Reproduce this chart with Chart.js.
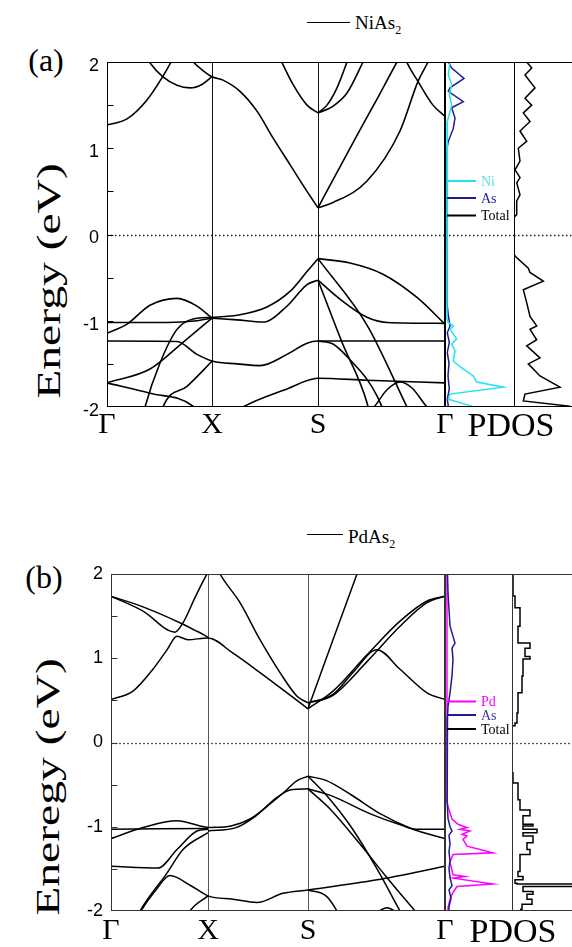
<!DOCTYPE html>
<html>
<head>
<meta charset="utf-8">
<title>NiAs2 / PdAs2 bands and PDOS</title>
<script src="https://cdn.jsdelivr.net/npm/chart.js@4.4.1/dist/chart.umd.min.js"></script>
<style>
  html, body { margin: 0; padding: 0; background: #fff; overflow: hidden; }
  body { position: relative; width: 572px; height: 947px; font-family: 'Liberation Serif', 'Times New Roman', serif; color: #000; }
  canvas { position: absolute; }
  .lbl { position: absolute; white-space: nowrap; line-height: 1; transform: translate(-50%, -50%); }
  .ytitle { position: absolute; white-space: nowrap; line-height: 1; font-size: 34px; transform: translate(-50%, -50%) rotate(-90deg) scaleX(1.4); }
  .key { position: absolute; white-space: nowrap; line-height: 1; font-size: 19px; }
  .key span { font-size: 12px; position: relative; top: 5px; }
  .keyline { position: absolute; height: 0; border-top: 1.5px solid #000; }
</style>
</head>
<body>
<!-- (a) NiAs2 -->
<div class="keyline" style="left:307px;top:22px;width:43px"></div>
<div class="key" style="left:355px;top:13px">NiAs<span>2</span></div>
<div class="lbl" style="left:46px;top:60px;font-size:32px">(a)</div>
<div class="ytitle" style="left:49px;top:281px">Energy (eV)</div>
<canvas id="bandA" width="405" height="393" style="left:60px;top:52px"></canvas>
<canvas id="dosA" width="69" height="345" style="left:445px;top:62px"></canvas>
<canvas id="totA" width="58" height="345" style="left:514px;top:62px"></canvas>
<div class="lbl" style="left:511px;top:425px;font-size:34px">PDOS</div>

<!-- (b) PdAs2 -->
<div class="keyline" style="left:307px;top:534px;width:36px"></div>
<div class="key" style="left:348px;top:527px">PdAs<span>2</span></div>
<div class="lbl" style="left:44px;top:577px;font-size:32px">(b)</div>
<div class="ytitle" style="left:48px;top:787px">Eneregy (eV)</div>
<canvas id="bandB" width="401" height="382" style="left:64px;top:564px"></canvas>
<canvas id="dosB" width="67" height="337" style="left:445px;top:574px"></canvas>
<canvas id="totB" width="60" height="337" style="left:512px;top:574px"></canvas>
<div class="lbl" style="left:513px;top:931px;font-size:34px">PDOS</div>

<script>
// ---------- shared ----------
const kLabels = ['Γ', 'X', 'S', 'Γ'];
const minorTicks = [-1.5, -1, -0.5, 0, 0.5, 1, 1.5];

// ---------- (a) NiAs2 : bands as [k, E] ----------
const kPathA = [0, 105, 211, 338];
const bandsA = [
  [[0,1.27],[20,1.34],[40,1.56],[55.7,1.83],[64,2.0],[70,2.15]],
  [[36,2.12],[42.3,2.0],[55.7,1.83],[70,1.73],[83,1.70],[95,1.74],[105,1.83]],
  [[80,2.1],[86.3,2.0],[95,1.91],[105,1.83],[116,1.79],[133,1.66],[150,1.43],[166,1.12],[183,0.81],[200,0.50],[211,0.31]],
  [[211,0.31],[230,0.72],[250,1.15],[270,1.57],[290,2.0],[295,2.1]],
  [[211,0.31],[226,0.37],[260,0.62],[293,1.20],[311,1.775],[321,2.0],[325,2.1]],
  [[295,2.15],[299.7,2.0],[311,1.775],[326,1.50],[338,1.37]],
  [[170,2.12],[174.7,2.0],[186,1.74],[200,1.50],[211,1.41]],
  [[211,1.41],[220,1.50],[230,1.70],[240,2.0],[243,2.1]],
  [[211,1.41],[225,1.48],[240,1.64],[256,2.0],[260,2.1]],
  [[36,-2.1],[38,-2.0],[53,-1.49],[70,-1.10],[86,-0.98],[105,-0.96],[133,-0.93],[160,-0.84],[183,-0.66],[200,-0.43],[211,-0.28]],
  [[211,-0.28],[243,-0.33],[276,-0.46],[310,-0.73],[338,-1.04]],
  [[105,-0.97],[130,-0.99],[156,-1.015],[180,-0.83],[200,-0.58],[211,-0.53]],
  [[211,-0.53],[233,-0.75],[260,-0.96],[280,-1.02],[338,-1.03]],
  [[0,-1.146],[20,-1.04],[43,-0.82],[70,-0.74],[90,-0.83],[105,-0.97]],
  [[0,-1.02],[60,-1.02],[90,-1.0],[105,-0.97]],
  [[0,-1.235],[70,-1.24],[90,-1.39],[106,-1.47],[130,-1.50],[153,-1.52],[180,-1.39],[200,-1.26],[211,-1.235],[338,-1.235]],
  [[0,-1.72],[43,-1.56],[76,-1.25],[105,-0.97]],
  [[54,-2.1],[56,-2.0],[80,-1.76],[105,-1.47]],
  [[0,-1.72],[43,-1.84],[86,-1.99],[90,-2.05]],
  [[130,-2.05],[136,-2.0],[180,-1.79],[211,-1.667],[260,-1.69],[338,-1.72]],
  [[211,-0.28],[260,-1.05],[300,-2.0]],
  [[211,-0.53],[235,-1.25],[260,-1.95],[262,-2.05]],
  [[211,-1.235],[226,-1.27],[246,-1.49],[260,-1.68],[270,-1.87],[275,-2.0]],
  [[262,-2.05],[267,-2.0],[280,-1.80],[293,-1.71],[305,-1.78],[320,-2.0],[325,-2.05]]
];

// (a) PDOS (arbitrary units)
const namesA = ['Ni', 'As', 'Total'];
const niE   = [2.0, 1.85, 1.74, 1.62, 1.50, 1.31, 1.08, -0.98, -1.02, -1.06, -1.10, -1.21, -1.27, -1.35, -1.47, -1.56, -1.64, -1.71, -1.77, -1.85, -1.91, -1.99];
const niDos = [0.3, 0.13, 0.47, 0.23, 0.47, 0.03, 0, 0, 0.13, 0.63, 0.3, 0.97, 0.47, 0.8, 0.63, 1.63, 2.63, 2.97, 5.63, 0.3, 0.13, 2.47];
const asAE   = [2.0, 1.93, 1.81, 1.70, 1.66, 1.54, 1.47, 1.35, 1.23, 1.08, 1.0, -0.83, -0.94, -1.06, -1.14, -1.25, -1.37, -1.49, -1.64, -1.79, -1.91, -1.99];
const asADos = [0.13, 0.47, 1.7, 0.3, 0.13, 1.63, 0.47, 0.8, 0.63, 0.13, 0, 0.03, 0.13, 0.3, 0.03, 0.23, 0.03, 0.2, 0.1, 0.23, 0.03, 0.13];
const totAE   = [2.0, 1.93, 1.85, 1.70, 1.58, 1.50, 1.41, 1.31, 1.20, 1.08, 1.00, 0.85, 0.75, 0.66, 0.60, 0.46, 0.39, 0.23, 0.20, -0.22, -0.25, -0.39, -0.44, -0.54, -0.64, -0.79, -0.95, -1.06, -1.10, -1.22, -1.29, -1.43, -1.50, -1.64, -1.77, -1.85, -1.93, -1.99];
const totADos = [1.27, 1.77, 1.1, 2.1, 1.1, 1.77, 0.93, 1.6, 0.6, 1.27, 0.43, 0.6, 0.1, 0.6, 0.27, 0.6, 0.27, 0.27, 0, 0, 0.1, 1.43, 1.6, 2.93, 0.93, 1.27, 1.6, 2.27, 1.6, 2.27, 1.27, 2.6, 1.43, 2.6, 4.6, 1.1, 0.93, 5.6];

// ---------- (b) PdAs2 ----------
const kPathB = [0, 97, 197, 334];
const bandsB = [
  [[0,0.51],[22,0.61],[42,0.87],[56,1.10],[66,1.26],[77,1.22],[97,1.24],[122,1.06],[149,0.83],[176,0.59],[197,0.40]],
  [[0,1.737],[32,1.56],[64,1.31],[72,1.42],[84,1.72],[96,2.0],[99,2.05]],
  [[0,1.737],[32,1.61],[71,1.41],[86,1.32],[97,1.25]],
  [[105,2.1],[109,2.0],[129,1.66],[149,1.22],[169,0.83],[186,0.55],[197,0.47]],
  [[197,0.40],[222,1.22],[246,2.0],[249,2.1]],
  [[197,0.40],[222,0.61],[256,1.04],[289,1.44],[316,1.68],[334,1.737]],
  [[197,0.47],[222,0.56],[256,0.96],[289,1.38],[316,1.66],[334,1.737]],
  [[197,0.47],[222,0.57],[242,0.83],[266,1.10],[289,0.87],[316,0.59],[334,0.51]],
  [[97,-1.01],[120,-0.99],[140,-0.90],[160,-0.72],[175,-0.57],[185,-0.46],[197,-0.40]],
  [[197,-0.40],[215,-0.45],[240,-0.62],[270,-0.85],[300,-1.02],[334,-1.14]],
  [[97,-1.05],[125,-1.01],[145,-0.87],[165,-0.66],[180,-0.56],[197,-0.55]],
  [[197,-0.55],[220,-0.63],[260,-0.85],[290,-0.98],[305,-1.03],[334,-1.03]],
  [[0,-1.03],[97,-1.02]],
  [[0,-1.14],[32,-1.01],[66,-0.93],[89,-0.99],[97,-1.01]],
  [[0,-1.47],[47,-1.49],[66,-1.27],[86,-1.05],[97,-1.03]],
  [[27,-2.05],[29,-2.0],[56,-1.55],[72,-1.27],[97,-1.07]],
  [[28,-2.05],[30,-2.0],[45,-1.75],[59,-1.58],[80,-1.70],[97,-1.82],[122,-1.86],[146,-1.90],[172,-1.79],[197,-1.75],[266,-1.63],[334,-1.47]],
  [[77,-2.05],[79,-2.0],[97,-1.82]],
  [[197,-1.75],[215,-1.82],[226,-2.0],[228,-2.05]],
  [[197,-0.40],[215,-0.62],[240,-1.0],[266,-1.50],[289,-2.0]],
  [[197,-0.55],[220,-0.80],[250,-1.22],[275,-1.59],[304,-2.0]],
  [[262,-2.05],[276,-1.96],[290,-2.05]]
];

const namesB = ['Pd', 'As', 'Total'];
const pdE   = [2.0, -0.70, -0.76, -0.91, -0.97, -1.01, -1.03, -1.05, -1.09, -1.11, -1.15, -1.23, -1.27, -1.31, -1.33, -1.42, -1.57, -1.59, -1.61, -1.68, -1.71, -1.78, -1.86, -1.96, -2.0];
const pdDos = [0, 0, 0.1, 0.5, 1.1, 2.0, 1.3, 2.3, 1.5, 2.0, 1.6, 2.0, 3.3, 4.6, 0.6, 0.3, 0.6, 1.8, 0.6, 4.6, 1.0, 0.6, 0.3, 0.1, 0.1];
const asBE   = [2.0, 1.78, 1.38, 1.18, 1.12, 0.99, 0.79, 0.59, 0.43, 0.3, 0.2, -0.5, -0.7, -0.9, -1.0, -1.05, -1.1, -1.2, -1.3, -1.4, -1.5, -1.6, -1.7, -1.75, -1.85, -1.95, -2.0];
const asBDos = [0.05, 0.1, 0.3, 0.8, 0.5, 0.6, 0.5, 0.3, 0.1, 0.05, 0, 0, 0.05, 0.1, 0.3, 0.5, 0.2, 0.3, 0.2, 0.3, 0.2, 0.3, 0.5, 0.2, 0.4, 0.2, 0.2];
const totBE   = [2.0, 1.74, 1.60, 1.38, 1.22, 1.18, 1.12, 1.02, 0.99, 0.79, 0.59, 0.35, 0.23, 0.20, -0.34, -0.36, -0.48, -0.68, -0.80, -0.87, -0.97, -0.99, -1.03, -1.07, -1.11, -1.19, -1.27, -1.33, -1.53, -1.59, -1.63, -1.67, -1.68, -1.71, -1.77, -1.80, -1.86, -1.92, -1.98];
const totBDos = [0.1, 0.3, 0.8, 0.6, 0.6, 1.8, 1.3, 1.8, 1.1, 1.0, 0.6, 0.5, 0.3, 0, 0, 0.1, 0.6, 0.8, 1.8, 1.1, 2.1, 1.1, 2.5, 1.1, 2.1, 1.5, 1.8, 0.8, 0.6, 1.1, 0.3, 0.5, 6.5, 1.1, 2.1, 1.5, 2.0, 1.0, 0.8];

// ---------- drawing helpers ----------
Chart.defaults.font.family = "'Liberation Sans', Arial, sans-serif";
Chart.defaults.color = '#000';

// frame, Fermi level, high-symmetry lines, inward ticks and in-panel key
const framePlugin = {
  id: 'frame',
  beforeDatasetsDraw(chart, args, o) {
    const { ctx, chartArea: a } = chart;
    const x = chart.scales.x, y = chart.scales.y;
    ctx.save();
    ctx.lineWidth = 1;
    ctx.strokeStyle = o.vlineColor || '#000';
    (o.vlines || []).forEach(v => {
      const px = Math.round(x.getPixelForValue(v)) + 0.5;
      ctx.beginPath(); ctx.moveTo(px, a.top); ctx.lineTo(px, a.bottom); ctx.stroke();
    });
    const py = Math.round(y.getPixelForValue(0)) + 0.5;
    ctx.setLineDash(o.dash);
    ctx.strokeStyle = o.dashColor;
    ctx.lineWidth = 1.3;
    ctx.beginPath(); ctx.moveTo(a.left, py); ctx.lineTo(a.right, py); ctx.stroke();
    ctx.restore();
  },
  afterDatasetsDraw(chart, args, o) {
    const { ctx, chartArea: a } = chart;
    const y = chart.scales.y;
    const L = a.left + 0.5, R = a.right - 0.5, T = a.top + 0.5, B = a.bottom - 0.5;
    ctx.save();
    ctx.strokeStyle = o.frameColor;
    ctx.lineWidth = 1;
    ctx.beginPath();
    if (o.sides.includes('l')) { ctx.moveTo(L, T); ctx.lineTo(L, B); }
    if (o.sides.includes('r')) { ctx.moveTo(R, T); ctx.lineTo(R, B); }
    if (o.sides.includes('t')) { ctx.moveTo(a.left, T); ctx.lineTo(a.right, T); }
    if (o.sides.includes('b')) { ctx.moveTo(a.left, B); ctx.lineTo(a.right, B); }
    (o.ticks || []).forEach(v => {
      const py = Math.round(y.getPixelForValue(v)) + 0.5;
      ctx.moveTo(L, py); ctx.lineTo(L + 6, py);
    });
    ctx.stroke();
    (o.key || []).forEach(k => {
      ctx.strokeStyle = k.color;
      ctx.lineWidth = 2;
      ctx.beginPath(); ctx.moveTo(a.left + 2, k.y); ctx.lineTo(a.left + 31, k.y); ctx.stroke();
      ctx.fillStyle = k.textColor;
      ctx.font = "14px 'Liberation Serif'";
      ctx.textBaseline = 'middle';
      ctx.fillText(k.text, a.left + 36, k.y + 1);
    });
    ctx.restore();
  }
};

function bandChart(id, bands, kPath, xHeight, look) {
  return new Chart(document.getElementById(id), {
    type: 'line',
    data: {
      datasets: bands.map(b => ({
        data: b.map(([k, e]) => ({ x: k, y: e })),
        borderColor: '#000',
        borderWidth: look.width,
        pointRadius: 0,
        fill: false,
        cubicInterpolationMode: 'monotone'
      }))
    },
    options: {
      responsive: false,
      animation: false,
      events: [],
      layout: { padding: { top: 10, right: 20, bottom: 0, left: 0 } },
      elements: { line: { capBezierPoints: false } },
      plugins: {
        legend: { display: false },
        tooltip: { enabled: false },
        frame: {
          vlines: kPath.slice(1, -1), vlineColor: look.vline,
          dash: look.dash, dashColor: look.dashColor,
          frameColor: look.frame, sides: 'lrtb', ticks: minorTicks
        }
      },
      scales: {
        x: {
          type: 'linear', min: 0, max: kPath[kPath.length - 1],
          grid: { display: false, drawTicks: false }, border: { display: false },
          afterBuildTicks: s => { s.ticks = kPath.map(v => ({ value: v })); },
          afterFit: s => { s.height = xHeight; },
          ticks: {
            autoSkip: false, maxRotation: 0, padding: look.xPad,
            font: { family: "'Liberation Serif'", size: 30 },
            callback: (v, i) => kLabels[i]
          }
        },
        y: {
          min: -2, max: 2,
          grid: { display: false, drawTicks: false }, border: { display: false },
          afterFit: s => { s.width = 47; s.paddingTop = 0; s.paddingBottom = 0; },
          ticks: { stepSize: 1, padding: 8, labelOffset: look.yShift, font: { size: 18 } }
        }
      }
    },
    plugins: [framePlugin]
  });
}

function dosChart(id, series, xMin, xMax, frameOpts) {
  return new Chart(document.getElementById(id), {
    type: 'scatter',
    data: {
      datasets: series.map(s => ({
        data: s.e.map((e, i) => ({ x: s.v[i], y: e })),
        showLine: true,
        borderColor: s.color,
        borderWidth: 1.5,
        pointRadius: 0,
        stepped: s.stepped || false
      }))
    },
    options: {
      responsive: false,
      animation: false,
      events: [],
      layout: { padding: 0 },
      plugins: { legend: { display: false }, tooltip: { enabled: false }, frame: frameOpts },
      scales: {
        x: { display: false, min: xMin, max: xMax },
        y: { display: false, min: -2, max: 2 }
      }
    },
    plugins: [framePlugin]
  });
}

const NI = '#20e2f0', AS = '#1c1c96', PD = '#ff00ff';

// ---------- panel (a) ----------
bandChart('bandA', bandsA, kPathA, 38, {
  width: 1.6, vline: '#111', frame: '#000', dash: [1.5, 2.5], dashColor: '#222', xPad: 0, yShift: 4
});
dosChart('dosA', [
  { e: niE, v: niDos, color: NI },
  { e: asAE, v: asADos, color: AS }
], -0.2, 6.7, {
  dash: [1.5, 2.5], dashColor: '#222', frameColor: '#000', sides: 'ltb',
  key: [
    { text: namesA[0], color: NI, textColor: '#5fdcea', y: 119 },
    { text: namesA[1], color: AS, textColor: AS, y: 136 },
    { text: namesA[2], color: '#000', textColor: '#000', y: 153.5 }
  ]
});
dosChart('totA', [
  { e: totAE, v: totADos, color: '#000' }
], 0, 5.8, { dash: [1.5, 2.5], dashColor: '#222', frameColor: '#000', sides: 'ltb' });

// ---------- panel (b) ----------
bandChart('bandB', bandsB, kPathB, 35, {
  width: 1.5, vline: '#555', frame: '#333', dash: [2, 2], dashColor: '#555', xPad: 2, yShift: 0
});
dosChart('dosB', [
  { e: asBE, v: asBDos, color: AS },
  { e: pdE, v: pdDos, color: PD }
], -0.2, 6.5, {
  dash: [2, 2], dashColor: '#555', frameColor: '#333', sides: 'ltb',
  key: [
    { text: namesB[0], color: PD, textColor: PD, y: 127.5 },
    { text: namesB[1], color: AS, textColor: '#3a3aa0', y: 141 },
    { text: namesB[2], color: '#000', textColor: '#000', y: 155 }
  ]
});
dosChart('totB', [
  { e: totBE, v: totBDos, color: '#000', stepped: 'after' }
], 0, 6.0, { dash: [2, 2], dashColor: '#555', frameColor: '#333', sides: 'ltb' });
</script>
</body>
</html>
